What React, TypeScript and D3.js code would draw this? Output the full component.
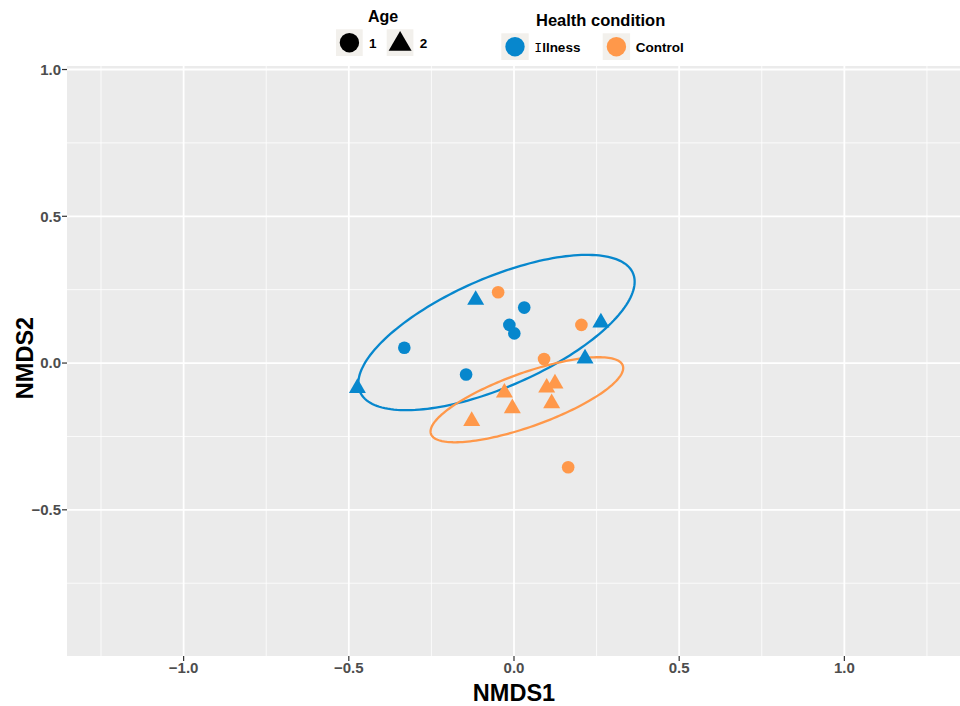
import React from "react";
import * as d3 from "d3";

// NMDS ordination scores per sample
const sampleNMDS1 = [
  -0.332, -0.145, -0.014, 0.001, 0.031,
  -0.116, -0.474, 0.263, 0.215,
  -0.048, 0.204, 0.091, 0.164,
  -0.128, -0.029, -0.005, 0.099, 0.124, 0.114,
];
const sampleNMDS2 = [
  0.052, -0.039, 0.13, 0.101, 0.189,
  0.215, -0.085, 0.138, 0.015,
  0.241, 0.13, 0.014, -0.355,
  -0.198, -0.101, -0.154, -0.084, -0.07, -0.137,
];
const sampleCondition = [
  "Illness", "Illness", "Illness", "Illness", "Illness",
  "Illness", "Illness", "Illness", "Illness",
  "Control", "Control", "Control", "Control",
  "Control", "Control", "Control", "Control", "Control", "Control",
];
const sampleAge = [
  "1", "1", "1", "1", "1",
  "2", "2", "2", "2",
  "1", "1", "1", "1",
  "2", "2", "2", "2", "2", "2",
];

// 95% ellipses per condition: centre and shape matrix [sxx, sxy, syy]
const ellipseGroups = ["Illness", "Control"];
const ellipseCentres = [
  [-0.053, 0.104],
  [0.039, -0.125],
];
const ellipseShapes = [
  [0.1749, 0.0724, 0.07],
  [0.085, 0.0315, 0.021],
];

const conditionLevels = ["Illness", "Control"];
const conditionColours = ["#0787CD", "#FF984A"];
const ageLevels = ["1", "2"];

const xMajorTicks = [-1.0, -0.5, 0.0, 0.5, 1.0];
const xMinorTicks = [-1.25, -0.75, -0.25, 0.25, 0.75, 1.25];
const yMajorTicks = [1.0, 0.5, 0.0, -0.5];
const yMinorTicks = [0.75, 0.25, -0.25, -0.75];

const W = 960;
const H = 706;
const panel = { left: 67, right: 960, top: 66, bottom: 656 };
const FONT = "'Liberation Sans', Arial, Helvetica, sans-serif";

const fmt = (v: number) => (v < 0 ? "\u2212" : "") + Math.abs(v).toFixed(1);

function trianglePath(cx: number, cy: number, side: number) {
  const h = (side * Math.sqrt(3)) / 2;
  const p = d3.path();
  p.moveTo(cx, cy - (2 * h) / 3);
  p.lineTo(cx + side / 2, cy + h / 3);
  p.lineTo(cx - side / 2, cy + h / 3);
  p.closePath();
  return p.toString();
}

export default function App() {
  const x = d3.scaleLinear().domain([-1.353, 1.35]).range([panel.left, panel.right]);
  const y = d3.scaleLinear().domain([-0.998, 1.012]).range([panel.bottom, panel.top]);
  const colour = d3.scaleOrdinal<string, string>().domain(conditionLevels).range(conditionColours);

  const ellipseLine = d3
    .line<[number, number]>()
    .x((d) => x(d[0]))
    .y((d) => y(d[1]))
    .curve(d3.curveLinearClosed);

  const ellipses = ellipseGroups.map((g, i) => {
    const [cx, cy] = ellipseCentres[i];
    const [sxx, sxy, syy] = ellipseShapes[i];
    const l11 = Math.sqrt(sxx);
    const l21 = sxy / l11;
    const l22 = Math.sqrt(syy - l21 * l21);
    const pts: [number, number][] = d3.range(0, 2 * Math.PI, Math.PI / 90).map((t) => {
      const u = Math.cos(t);
      const v = Math.sin(t);
      return [cx + l11 * u, cy + l21 * u + l22 * v];
    });
    return { g, d: ellipseLine(pts) as string };
  });

  const samples = sampleNMDS1.map((v, i) => ({
    x: v,
    y: sampleNMDS2[i],
    cond: sampleCondition[i],
    age: sampleAge[i],
  }));

  return (
    <svg width={W} height={H} style={{ position: "absolute", left: 0, top: 0 }} fontFamily={FONT}>
      <rect x={0} y={0} width={W} height={H} fill="#fff" />
      {/* panel */}
      <rect
        x={panel.left}
        y={panel.top}
        width={panel.right - panel.left}
        height={panel.bottom - panel.top}
        fill="#EBEBEB"
      />
      {xMinorTicks.map((t) => (
        <line key={"xm" + t} x1={x(t)} x2={x(t)} y1={panel.top} y2={panel.bottom} stroke="#fff" strokeWidth={0.8} />
      ))}
      {yMinorTicks.map((t) => (
        <line key={"ym" + t} x1={panel.left} x2={panel.right} y1={y(t)} y2={y(t)} stroke="#fff" strokeWidth={0.8} />
      ))}
      {xMajorTicks.map((t) => (
        <line key={"xM" + t} x1={x(t)} x2={x(t)} y1={panel.top} y2={panel.bottom} stroke="#fff" strokeWidth={1.8} />
      ))}
      {yMajorTicks.map((t) => (
        <line key={"yM" + t} x1={panel.left} x2={panel.right} y1={y(t)} y2={y(t)} stroke="#fff" strokeWidth={1.8} />
      ))}

      {/* ellipses */}
      {ellipses.map((e) => (
        <path key={e.g} d={e.d} fill="none" stroke={colour(e.g)} strokeWidth={2.3} />
      ))}

      {/* samples */}
      {samples.map((s, i) =>
        s.age === "1" ? (
          <circle key={i} cx={x(s.x)} cy={y(s.y)} r={6.3} fill={colour(s.cond)} />
        ) : (
          <path key={i} d={trianglePath(x(s.x), y(s.y), 17)} fill={colour(s.cond)} />
        )
      )}

      {/* axes */}
      {xMajorTicks.map((t) => (
        <g key={"xt" + t}>
          <line x1={x(t)} x2={x(t)} y1={panel.bottom} y2={panel.bottom + 5} stroke="#333" strokeWidth={1.2} />
          <text x={x(t)} y={panel.bottom + 17} textAnchor="middle" fontSize={15} fontWeight="bold" fill="#4D4D4D">
            {fmt(t)}
          </text>
        </g>
      ))}
      {yMajorTicks.map((t) => (
        <g key={"yt" + t}>
          <line x1={panel.left - 5} x2={panel.left} y1={y(t)} y2={y(t)} stroke="#333" strokeWidth={1.2} />
          <text x={panel.left - 6} y={y(t)} dy="0.36em" textAnchor="end" fontSize={15} fontWeight="bold" fill="#4D4D4D">
            {fmt(t)}
          </text>
        </g>
      ))}
      <text x={514} y={701} textAnchor="middle" fontSize={23.5} fontWeight="bold" fill="#000">
        NMDS1
      </text>
      <text
        transform={`translate(32.5,358) rotate(-90)`}
        textAnchor="middle"
        fontSize={23.5}
        fontWeight="bold"
        fill="#000"
      >
        NMDS2
      </text>

      {/* legend: Age */}
      <text x={368} y={21.5} fontSize={16} fontWeight="bold" fill="#000">
        Age
      </text>
      {ageLevels.map((a, i) => {
        const bx = 336 + i * 50.7;
        const cx = bx + 13.4;
        const cy = 42.7;
        return (
          <g key={"age" + a}>
            <rect x={bx} y={29.3} width={26.7} height={26.7} fill="#F2F0EC" />
            {a === "1" ? (
              <circle cx={cx} cy={cy} r={9.7} fill="#000" />
            ) : (
              <path d={trianglePath(cx, cy + 1.5, 23)} fill="#000" />
            )}
            <text x={bx + 33} y={48} fontSize={13.5} fontWeight="bold" fill="#000">
              {a}
            </text>
          </g>
        );
      })}

      {/* legend: Health condition */}
      <text x={536} y={25.5} fontSize={16.5} fontWeight="bold" fill="#000">
        Health condition
      </text>
      {conditionLevels.map((c, i) => {
        const bx = 501.3 + i * 101.4;
        return (
          <g key={"cond" + c}>
            <rect x={bx} y={33.3} width={27.4} height={26.7} fill="#F2F0EC" />
            <circle cx={bx + 13.7} cy={46.7} r={9.7} fill={colour(c)} />
            {c === "Illness" ? (
              <text x={bx + 33} y={52} fontSize={13.5} fontWeight="bold" fill="#000">
                <tspan fontFamily="'DejaVu Sans Mono', monospace" fontWeight="normal" fontSize={13}>
                  I
                </tspan>
                <tspan>llness</tspan>
              </text>
            ) : (
              <text x={bx + 33} y={52} fontSize={13.5} fontWeight="bold" fill="#000">
                {c}
              </text>
            )}
          </g>
        );
      })}
    </svg>
  );
}
